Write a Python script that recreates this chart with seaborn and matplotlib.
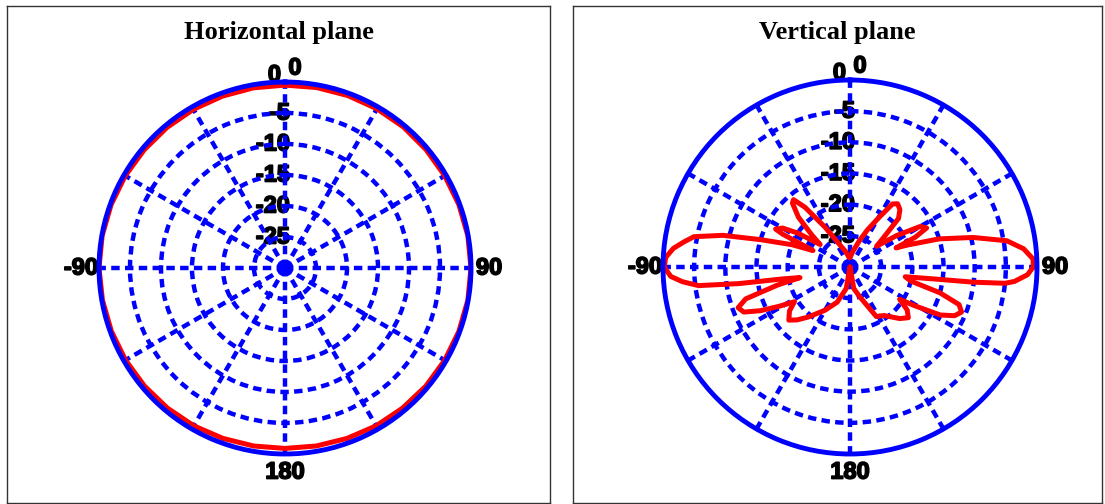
import numpy as np
import matplotlib
matplotlib.use('Agg')
import matplotlib.pyplot as plt
import matplotlib.patheffects as pe
from matplotlib.transforms import offset_copy
import seaborn as sns

# ring levels (dB) and angle labels
ring_levels = [-25, -20, -15, -10, -5, 0]
ring_labels = ['-25', '-20', '-15', '-10', '-5', '0']
spoke_angles = list(range(0, 360, 30))
spoke_labels = ['', '', '', '90', '', '', '180', '', '', '-90', '', '']
top_label = '0'
titles = ['Horizontal plane', 'Vertical plane']

# horizontal plane: almost omni pattern (deg, dB)
h_angles = list(range(0, 361, 10))
h_gain = [-0.5, -0.45, -0.4, -0.35, -0.3, -0.3, -0.25, -0.15, -0.05, 0.0,
          -0.05, -0.15, -0.25, -0.35, -0.5, -0.6, -0.75, -0.85, -0.9,
          -0.85, -0.75, -0.6, -0.5, -0.4, -0.3, -0.2, -0.1, 0.0,
          -0.05, -0.15, -0.25, -0.35, -0.4, -0.45, -0.5, -0.5, -0.5]

# vertical plane, left half (-180..0)
v_left_angles = [-180, -170, -160, -150, -140, -135, -131, -126, -122, -119, -116, -113,
                 -110, -107, -104, -102, -100, -98.5, -97, -95, -93, -90, -87, -84,
                 -81.5, -79, -76, -73, -69, -66, -64, -63, -60, -57, -53, -50, -46,
                 -42, -40, -37, -32, -25, -15, -5]
v_left_gain = [-30, -26.5, -24, -22, -19.5, -18, -17, -18, -19.5, -17, -14, -11.5,
               -10.9, -12.5, -18, -21.8, -19, -12, -5.5, -3, -1.2, -0.2, -0.4, -1.5,
               -3, -4.5, -9, -15, -20, -23.5, -18, -16.6, -17.5, -20, -24, -22, -18.5,
               -16.2, -15.9, -18, -22.5, -26, -27.5, -28.5]

# vertical plane, right half (0..180)
v_right_angles = [0, 10, 20, 25, 30, 34, 37, 41, 45, 49, 52, 56, 60, 63, 65.5, 67.5,
                  69, 72.5, 76.5, 80.5, 84, 87.5, 90, 92.5, 95, 96, 97, 98, 100, 103,
                  106, 109, 112, 115, 118, 121, 123, 127, 131, 136, 145, 152, 162, 170, 180]
v_right_gain = [-28.5, -27.5, -25.4, -23.5, -21, -17.8, -17.3, -17.8, -19, -23, -24.6, -21,
                -17, -16.2, -18.5, -22, -20.2, -15, -9.7, -4.5, -2, -0.6, -0.6, -1.5, -3.5,
                -5, -10, -16, -21, -20, -15, -11.5, -10.7, -11.5, -13.6, -18, -20.5, -18.5,
                -17.6, -18.5, -20.5, -21, -25, -26.5, -30]

sns.set_theme(style='white')

heavy = [pe.withStroke(linewidth=1.2, foreground='black')]
lab_font = dict(family='Liberation Sans', size=17, weight='bold', color='black')

W, H = 1105, 504
fig = plt.figure(figsize=(W / 100, H / 100), dpi=100)
fig.patch.set_facecolor('white')

# frames around each panel (pixel boxes: x0, y0_top, x1, y1_bottom)
frames = [(7, 6, 550, 503), (573, 6, 1102, 503)]
centres = [(285, 268, 186), (850, 267, 187)]

blue = '#0000ff'
red = '#ff0000'
dots = (0, (1.9, 1.2))

for i in range(2):
    x0, y0, x1, y1 = frames[i]
    fr = fig.add_axes([x0 / W, (H - y1) / H, (x1 - x0) / W, (y1 - y0) / H])
    fr.set_xticks([])
    fr.set_yticks([])
    fr.set_facecolor('white')
    for s in fr.spines.values():
        s.set_color('#333333')
        s.set_linewidth(1.0)
    fr.text(0.5, 1 - 27 / (y1 - y0), titles[i], transform=fr.transAxes, ha='center', va='center',
            fontsize=19, fontweight='bold', family='Liberation Serif', color='black')

    cx, cy, R = centres[i]
    ax = fig.add_axes([(cx - R) / W, (H - cy - R) / H, 2 * R / W, 2 * R / H], projection='polar')
    ax.set_facecolor('none')
    ax.set_theta_zero_location('N')
    ax.set_theta_direction(-1)
    ax.set_ylim(-30, 0)
    ax.set_rgrids(ring_levels[:-1], labels=[''] * (len(ring_levels) - 1))
    ax.set_thetagrids(spoke_angles, spoke_labels, fontsize=lab_font['size'],
                      fontweight='bold', family=lab_font['family'], color='black',
                      path_effects=heavy)
    ax.tick_params(axis='x', pad=0)
    ax.grid(True, color=blue, linewidth=3.2, linestyle=dots)
    ax.spines['polar'].set_color(blue)
    ax.spines['polar'].set_linewidth(3.5)

    # radial labels just left of the top spoke
    for lvl, lab in zip(ring_levels, ring_labels):
        if lvl == 0:
            dx, dy = -4, 7
        else:
            dx, dy = 5, 0
        tr = offset_copy(ax.transData, fig=fig, x=dx, y=dy, units='dots')
        ax.text(0, lvl, lab, transform=tr, ha='right', va='center', zorder=0.5,
                path_effects=heavy, **lab_font)
    # angle label at the top, a bit right of the spoke as in the original
    tr = offset_copy(ax.transData, fig=fig, x=10, y=14, units='dots')
    ax.text(0, 0, top_label, transform=tr, ha='center', va='center', path_effects=heavy, **lab_font)

    if i == 0:
        th = np.deg2rad(h_angles)
        r = np.array(h_gain)
    else:
        th = np.deg2rad(v_left_angles + v_right_angles)
        r = np.array(v_left_gain + v_right_gain)
    sns.lineplot(x=th, y=r, ax=ax, color=red, linewidth=3.6, sort=False, estimator=None)
    ax.set_xlabel('')
    ax.set_ylabel('')
    ax.set_ylim(-30, 0)

fig.savefig('out.png', dpi=100, facecolor='white')
